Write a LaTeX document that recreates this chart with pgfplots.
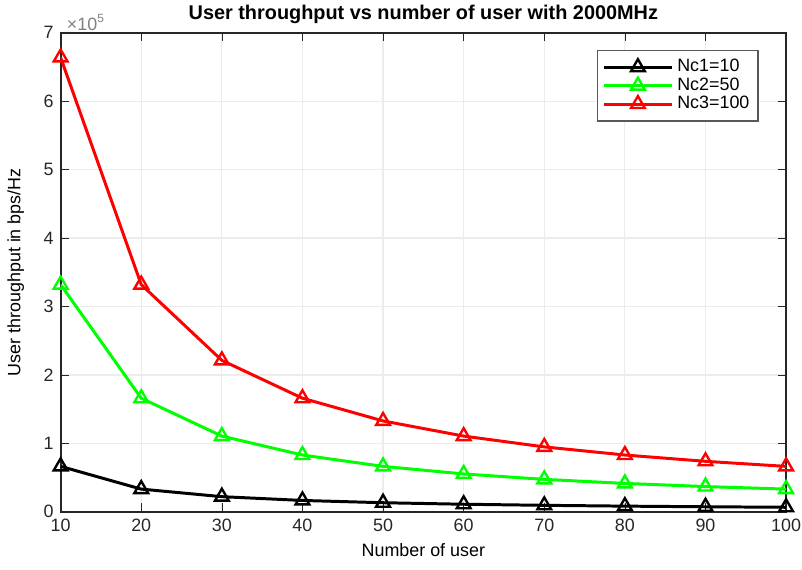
\documentclass[border=0pt]{standalone}
\usepackage{fontspec}
\setmainfont{Liberation Sans}
\usepackage{pgfplots}
\pgfplotsset{compat=1.18}
\definecolor{mgreen}{RGB}{0,255,0}
\definecolor{mred}{RGB}{255,0,0}
\definecolor{tickc}{RGB}{38,38,38}
\begin{document}
\begin{tikzpicture}
\begin{axis}[
  scale only axis,
  width=365pt, height=241pt,
  xmin=10, xmax=100, ymin=0, ymax=700000,
  xtick={10,20,...,100},
  ytick={0,100000,200000,300000,400000,500000,600000,700000},
  scaled y ticks=base 10:-5,
  ytick scale label code/.code={\texttimes10\textsuperscript{5}},
  every y tick scale label/.style={at={(rel axis cs:0,1)}, anchor=south west, inner sep=1pt, xshift=2pt, text=gray, font=\small},
  grid=major,
  major grid style={gray!15, line width=0.6pt},
  tick align=inside,
  axis line style={tickc, line width=0.9pt},
  tick style={tickc},
  ticklabel style={font=\small, text=tickc},
  /pgf/number format/assume math mode=true,
  title={\bfseries User throughput vs number of user with 2000MHz},
  title style={font=\normalsize, yshift=-5pt},
  xlabel={Number of user},
  ylabel={User throughput in bps/Hz},
  label style={font=\small},
  xlabel style={yshift=1pt},
  ylabel style={yshift=3pt},
  legend style={at={(0.963,0.965)}, anchor=north east, font=\small,
    draw=gray!70!black, line width=0.9pt, row sep=-2.5pt, inner sep=2.5pt},
  legend cell align=left,
  legend image code/.code={\draw[mark repeat=2, mark phase=2] plot coordinates {(0cm,0cm) (0.6cm,0cm) (1.2cm,0cm)};},
  every axis plot/.append style={line width=1.5pt, mark=triangle, mark size=4pt, mark options={solid, line width=1.2pt}},
]
\addplot[black] coordinates {
  (10,66400) (20,33200) (30,22133) (40,16600) (50,13280)
  (60,11067) (70,9486) (80,8300) (90,7378) (100,6640)
};
\addlegendentry{Nc1=10}
\addplot[mgreen] coordinates {
  (10,332000) (20,166000) (30,110667) (40,83000) (50,66400)
  (60,55333) (70,47429) (80,41500) (90,36889) (100,33200)
};
\addlegendentry{Nc2=50}
\addplot[mred] coordinates {
  (10,664000) (20,332000) (30,221333) (40,166000) (50,132800)
  (60,110667) (70,94857) (80,83000) (90,73778) (100,66400)
};
\addlegendentry{Nc3=100}
\end{axis}
\pgfresetboundingbox
\path (current axis.south west) +(-30.5pt,-29pt) (current axis.north east) +(8pt,16.5pt);
\end{tikzpicture}
\end{document}
